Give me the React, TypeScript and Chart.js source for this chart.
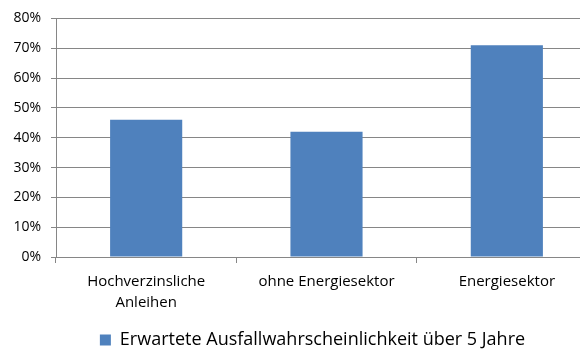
import React, { useEffect, useRef } from "react";
import { Chart, registerables } from "chart.js";

Chart.register(...registerables);

const categories: (string | string[])[] = [["Hochverzinsliche", "Anleihen"], "ohne Energiesektor", "Energiesektor"];
const seriesName = "Erwartete Ausfallwahrscheinlichkeit über 5 Jahre";
const values = [46, 42, 71];
const yMax = 80;
const yStep = 10;

const FONT = "'Open Sans', 'Noto Sans', sans-serif";
const GRID = "#868686";
const BAR = "#4F81BD";

const legendShift = {
  id: "legendShift",
  afterLayout(chart: any) {
    const l = chart.legend;
    if (l) {
      l.left += 14;
      l.right += 14;
    }
  },
};

export default function App() {
  const ref = useRef<HTMLCanvasElement | null>(null);
  useEffect(() => {
    document.body.style.margin = "0";
    const canvas = ref.current!;
    const chart = new Chart(canvas, {
      type: "bar",
      data: {
        labels: categories,
        datasets: [
          {
            label: seriesName,
            data: values,
            backgroundColor: BAR,
            borderWidth: 0,
            categoryPercentage: 1,
            barPercentage: 0.4,
          },
        ],
      },
      plugins: [legendShift],
      options: {
        responsive: false,
        animation: false,
        maintainAspectRatio: false,
        layout: { padding: { top: 13, right: 3, left: 0, bottom: 1 } },
        plugins: {
          tooltip: { enabled: false },
          legend: {
            position: "bottom",
            labels: {
              font: { family: FONT, size: 18 },
              color: "#000",
              boxWidth: 11,
              boxHeight: 11,
              padding: 10,
            },
          },
        },
        scales: {
          x: {
            grid: {
              display: true,
              drawOnChartArea: false,
              drawTicks: true,
              tickLength: 6,
              color: GRID,
              offset: true,
            },
            border: { display: true, color: GRID, width: 1 },
            ticks: {
              font: { family: FONT, size: 15, lineHeight: 1.4 },
              color: "#000",
              padding: 8,
              maxRotation: 0,
              autoSkip: false,
            },
            afterFit: (s: any) => {
              s.height = 64;
            },
          },
          y: {
            min: 0,
            max: yMax,
            grid: { color: GRID, tickLength: 5, lineWidth: 1 },
            border: { display: true, color: GRID, width: 1 },
            ticks: {
              stepSize: yStep,
              font: { family: FONT, size: 14 },
              color: "#000",
              padding: 10,
              callback: (v: any) => v + "%",
            },
            afterFit: (s: any) => {
              s.width = 56;
            },
          },
        },
      },
    });
    return () => chart.destroy();
  }, []);
  return (
    <div style={{ width: 580, height: 360, overflow: "hidden" }}>
      <canvas ref={ref} width={600} height={360} style={{ display: "block" }} />
    </div>
  );
}
